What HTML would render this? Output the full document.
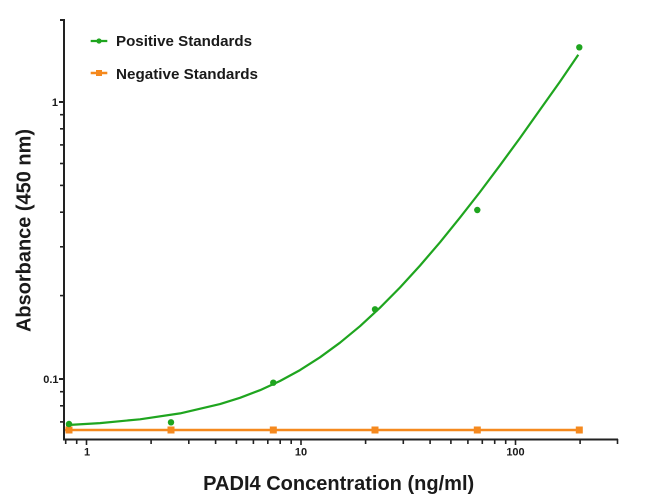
<!DOCTYPE html>
<html><head><meta charset="utf-8"><style>
html,body{margin:0;padding:0;background:#fff;}
svg{display:block;}
text{font-family:"Liberation Sans",Arial,sans-serif;fill:#1a1a1a;}
</style></head><body>
<svg width="650" height="504" viewBox="0 0 650 504" xmlns="http://www.w3.org/2000/svg">
<rect width="650" height="504" fill="#fff"/>
<!-- axes -->
<g stroke="#222" stroke-width="2" fill="none">
<line x1="64" y1="19" x2="64" y2="440"/>
<line x1="63" y1="439.5" x2="618" y2="439.5"/>
<!-- y major ticks -->
<line x1="59" y1="102" x2="64" y2="102"/>
<line x1="59" y1="379" x2="64" y2="379"/>
<line x1="60" y1="20" x2="64" y2="20"/>
</g>
<g stroke="#222" stroke-width="1.6">
<!-- y minor ticks -->
<line x1="60" y1="114.7" x2="64" y2="114.7"/>
<line x1="60" y1="128.8" x2="64" y2="128.8"/>
<line x1="60" y1="144.9" x2="64" y2="144.9"/>
<line x1="60" y1="163.5" x2="64" y2="163.5"/>
<line x1="60" y1="185.4" x2="64" y2="185.4"/>
<line x1="60" y1="212.2" x2="64" y2="212.2"/>
<line x1="60" y1="246.8" x2="64" y2="246.8"/>
<line x1="60" y1="295.6" x2="64" y2="295.6"/>
<line x1="60" y1="391.7" x2="64" y2="391.7"/>
<line x1="60" y1="405.8" x2="64" y2="405.8"/>
<line x1="60" y1="421.9" x2="64" y2="421.9"/>
<!-- x ticks -->
<line x1="65.7" y1="439" x2="65.7" y2="444"/>
<line x1="76.7" y1="439" x2="76.7" y2="444"/>
<line x1="86.5" y1="439" x2="86.5" y2="445"/>
<line x1="151.1" y1="439" x2="151.1" y2="444"/>
<line x1="188.8" y1="439" x2="188.8" y2="444"/>
<line x1="215.6" y1="439" x2="215.6" y2="444"/>
<line x1="236.4" y1="439" x2="236.4" y2="444"/>
<line x1="253.4" y1="439" x2="253.4" y2="444"/>
<line x1="267.8" y1="439" x2="267.8" y2="444"/>
<line x1="280.2" y1="439" x2="280.2" y2="444"/>
<line x1="291.2" y1="439" x2="291.2" y2="444"/>
<line x1="301" y1="439" x2="301" y2="445"/>
<line x1="365.6" y1="439" x2="365.6" y2="444"/>
<line x1="403.3" y1="439" x2="403.3" y2="444"/>
<line x1="430.1" y1="439" x2="430.1" y2="444"/>
<line x1="450.9" y1="439" x2="450.9" y2="444"/>
<line x1="467.9" y1="439" x2="467.9" y2="444"/>
<line x1="482.3" y1="439" x2="482.3" y2="444"/>
<line x1="494.7" y1="439" x2="494.7" y2="444"/>
<line x1="505.7" y1="439" x2="505.7" y2="444"/>
<line x1="515.5" y1="439" x2="515.5" y2="445"/>
<line x1="580.1" y1="439" x2="580.1" y2="444"/>
<line x1="617.5" y1="439" x2="617.5" y2="444"/>
</g>
<!-- tick labels -->
<g font-size="11" font-weight="bold" text-anchor="end">
<text x="58" y="106">1</text>
<text x="58.5" y="383">0.1</text>
</g>
<g font-size="11" font-weight="bold" text-anchor="middle">
<text x="87" y="455.5">1</text>
<text x="301" y="455.5">10</text>
<text x="515.5" y="455.5">100</text>
</g>
<!-- axis titles -->
<text x="338.7" y="490" font-size="20" font-weight="bold" text-anchor="middle" textLength="271" lengthAdjust="spacingAndGlyphs">PADI4 Concentration (ng/ml)</text>
<text transform="translate(30.5,230.5) rotate(-90)" font-size="20" font-weight="bold" text-anchor="middle" textLength="203" lengthAdjust="spacingAndGlyphs">Absorbance (450 nm)</text>
<!-- negative series -->
<g>
<line x1="65" y1="430" x2="579.3" y2="430" stroke="#f5891e" stroke-width="2.5"/>
<g fill="#f5891e">
<rect x="65.5" y="426.5" width="7" height="7"/>
<rect x="167.5" y="426.5" width="7" height="7"/>
<rect x="269.8" y="426.5" width="7" height="7"/>
<rect x="371.5" y="426.5" width="7" height="7"/>
<rect x="473.8" y="426.5" width="7" height="7"/>
<rect x="575.8" y="426.5" width="7" height="7"/>
</g>
</g>
<!-- positive curve -->
<polyline fill="none" stroke="#1fa51f" stroke-width="2.2" stroke-linejoin="round" points="66,425.1 100,423.1 140,419.3 180,413.4 220,404.1 240,397.8 260,390.2 280,381 300,370.1 320,357.3 340,342.7 360,326.2 380,307.7 400,287.5 420,265.6 440,242.3 460,217.6 480,192 500,165.3 520,138 540,109.7 560,81.6 578.3,54.7"/>
<g fill="#1fa51f">
<circle cx="69" cy="424" r="3.2"/>
<circle cx="171" cy="422.3" r="3.2"/>
<circle cx="273.3" cy="382.7" r="3.2"/>
<circle cx="375" cy="309.3" r="3.2"/>
<circle cx="477.3" cy="210" r="3.2"/>
<circle cx="579.3" cy="47.3" r="3.2"/>
</g>
<!-- legend -->
<line x1="90.7" y1="41" x2="107.3" y2="41" stroke="#1fa51f" stroke-width="2.2"/>
<circle cx="99" cy="41" r="2.6" fill="#1fa51f"/>
<text x="116" y="46" font-size="15" font-weight="bold" textLength="136" lengthAdjust="spacingAndGlyphs">Positive Standards</text>
<line x1="90.7" y1="73" x2="107.3" y2="73" stroke="#f5891e" stroke-width="2.5"/>
<rect x="96" y="70" width="6" height="6" fill="#f5891e"/>
<text x="116" y="79" font-size="15" font-weight="bold" textLength="142" lengthAdjust="spacingAndGlyphs">Negative Standards</text>
</svg>
</body></html>
